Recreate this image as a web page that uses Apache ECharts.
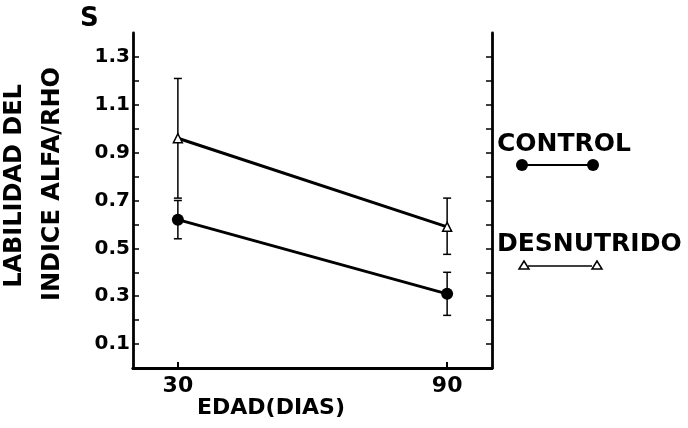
<!DOCTYPE html>
<html><head><meta charset="utf-8">
<script src="https://cdn.jsdelivr.net/npm/echarts@6/dist/echarts.min.js"></script>
<style>html,body{margin:0;padding:0;background:#fff}#c{width:688px;height:428px}</style>
</head><body><div id="c"></div>
<script>
const days = [30, 90];
const controlMean = [0.62, 0.31];
const controlLow = [0.54, 0.22];
const controlHigh = [0.70, 0.40];
const desnutMean = [0.96, 0.59];
const desnutLow = [0.71, 0.475];
const desnutHigh = [1.21, 0.71];
const xTickValues = [30, 90];
const yLabelValues = [0.1, 0.3, 0.5, 0.7, 0.9, 1.1, 1.3];
const yTickValues = [0.1,0.2,0.3,0.4,0.5,0.6,0.7,0.8,0.9,1.0,1.1,1.2,1.3];

const FONT = '"DejaVu Sans", sans-serif';
const chart = echarts.init(document.getElementById('c'), null, {renderer:'canvas'});

function errData(lo, hi){ return days.map((d,i)=>[d, lo[i], hi[i]]); }
function errRender(params, api){
  const x = api.value(0);
  const lo = api.coord([x, api.value(1)]);
  const hi = api.coord([x, api.value(2)]);
  const w = 4;
  const st = {stroke:'#000', lineWidth:1.5, fill:null};
  return {type:'group', children:[
    {type:'line', shape:{x1:lo[0],y1:lo[1],x2:hi[0],y2:hi[1]}, style:st},
    {type:'line', shape:{x1:lo[0]-w,y1:lo[1],x2:lo[0]+w,y2:lo[1]}, style:st},
    {type:'line', shape:{x1:hi[0]-w,y1:hi[1],x2:hi[0]+w,y2:hi[1]}, style:st}
  ]};
}

const axisLine = {show:true, lineStyle:{color:'#000', width:2.8}};
chart.setOption({
  animation:false,
  backgroundColor:'#fff',
  grid:{left:133, top:33, right:196, bottom:60, show:false},
  xAxis:[{
    type:'value', min:20, max:100, position:'bottom',
    axisLine:axisLine,
    axisTick:{show:true, inside:true, length:6, customValues:xTickValues, lineStyle:{color:'#000', width:2}},
    axisLabel:{show:true, customValues:xTickValues, margin:7, color:'#000', fontFamily:FONT, fontWeight:'bold', fontSize:22},
    splitLine:{show:false}
  },{
    type:'value', min:20, max:100, position:'top',
    axisLine:axisLine, axisTick:{show:false}, axisLabel:{show:false}, splitLine:{show:false}
  }],
  yAxis:[{
    type:'value', min:0, max:1.4, position:'left',
    axisLine:axisLine,
    axisTick:{show:true, inside:true, length:6, customValues:yTickValues, lineStyle:{color:'#000', width:1.5}},
    axisLabel:{show:true, customValues:yLabelValues, margin:3, color:'#000', fontFamily:FONT, fontWeight:'bold', fontSize:20,
      formatter:v=>v.toFixed(1)},
    splitLine:{show:false}
  },{
    type:'value', min:0, max:1.4, position:'right',
    axisLine:axisLine,
    axisTick:{show:true, inside:true, length:6, customValues:yTickValues, lineStyle:{color:'#000', width:1.5}},
    axisLabel:{show:false}, splitLine:{show:false}
  }],
  series:[
    {type:'custom', name:'errC', renderItem:errRender, data:errData(controlLow, controlHigh), z:2},
    {type:'custom', name:'errD', renderItem:errRender, data:errData(desnutLow, desnutHigh), z:2},
    {type:'line', name:'CONTROL', data:days.map((d,i)=>[d, controlMean[i]]),
      lineStyle:{color:'#000', width:3}, symbol:'circle', symbolSize:12,
      itemStyle:{color:'#000'}, z:3},
    {type:'line', name:'DESNUTRIDO', data:days.map((d,i)=>[d, desnutMean[i]]),
      lineStyle:{color:'#000', width:3}, symbol:'triangle', symbolSize:9,
      itemStyle:{color:'#fff', borderColor:'#000', borderWidth:1.5}, z:3}
  ],
  graphic:[
    {type:'text', left:80, top:6, style:{text:'S', font:'bold 26px '+FONT, fill:'#000'}},
    {type:'text', x:15, y:186, rotation:Math.PI/2, style:{text:'LABILIDAD DEL', font:'bold 24px '+FONT, fill:'#000', align:'center', verticalAlign:'middle'}},
    {type:'text', x:53, y:184, rotation:Math.PI/2, style:{text:'INDICE ALFA/RHO', font:'bold 24px '+FONT, fill:'#000', align:'center', verticalAlign:'middle'}},
    {type:'text', x:271, y:408, style:{text:'EDAD(DIAS)', font:'bold 22px '+FONT, fill:'#000', align:'center', verticalAlign:'middle'}},
    {type:'text', x:497, y:144, style:{text:'CONTROL', font:'bold 25px '+FONT, fill:'#000', align:'left', verticalAlign:'middle'}},
    {type:'line', shape:{x1:522,y1:165,x2:593,y2:165}, style:{stroke:'#000', lineWidth:2}},
    {type:'circle', shape:{cx:522, cy:165, r:6}, style:{fill:'#000'}},
    {type:'circle', shape:{cx:593, cy:165, r:6}, style:{fill:'#000'}},
    {type:'text', x:497, y:244, style:{text:'DESNUTRIDO', font:'bold 25px '+FONT, fill:'#000', align:'left', verticalAlign:'middle'}},
    {type:'line', shape:{x1:528,y1:266,x2:592,y2:266}, style:{stroke:'#000', lineWidth:1.5}},
    {type:'polygon', shape:{points:[[519,269],[529,269],[524,261]]}, style:{fill:'#fff', stroke:'#000', lineWidth:1.5}},
    {type:'polygon', shape:{points:[[592,269],[602,269],[597,261]]}, style:{fill:'#fff', stroke:'#000', lineWidth:1.5}}
  ]
});
</script></body></html>
